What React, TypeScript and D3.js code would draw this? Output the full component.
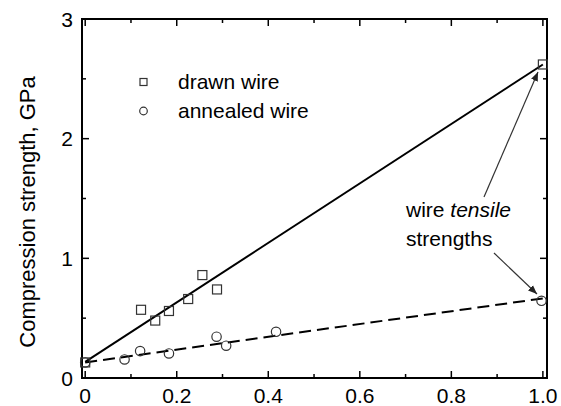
import React, { useRef, useEffect } from "react";
import * as d3 from "d3";

// drawn wire (squares)
const drawnX = [0, 0.122, 0.153, 0.183, 0.225, 0.256, 0.288, 1.0];
const drawnY = [0.13, 0.57, 0.48, 0.56, 0.66, 0.86, 0.74, 2.62];
// annealed wire (circles)
const annealedX = [0, 0.086, 0.12, 0.183, 0.287, 0.308, 0.417, 0.997];
const annealedY = [0.13, 0.155, 0.225, 0.205, 0.345, 0.27, 0.386, 0.645];
// fit lines (x0, x1) -> (y0, y1)
const fitX = [0, 1.0];
const drawnFitY = [0.135, 2.62];
const annealedFitY = [0.13, 0.665];

const xTicks = [0, 0.2, 0.4, 0.6, 0.8, 1.0];
const xTickLabels = ["0", "0.2", "0.4", "0.6", "0.8", "1.0"];
const yTicks = [0, 1, 2, 3];

const App = () => {
    const svgRef = useRef(null);

    useEffect(() => {
        const svg = d3.select(svgRef.current);
        svg.selectAll("*").remove();

        const left = 82, right = 547, top = 19, bottom = 378;
        const font = "Arial, 'Liberation Sans', sans-serif";

        const x = d3.scaleLinear().domain([-0.007, 1.009]).range([left, right]);
        const y = d3.scaleLinear().domain([0, 3]).range([bottom, top]);

        const g = svg.append("g");

        // ticks (inward, all four sides)
        const xMinor = d3.range(0, 1.01, 0.1);
        const yMinor = d3.range(0, 3.01, 0.5);
        xMinor.forEach((v) => {
            const major = xTicks.some((t) => Math.abs(t - v) < 1e-6);
            const len = major ? 7 : 4;
            g.append("line").attr("x1", x(v)).attr("x2", x(v)).attr("y1", bottom).attr("y2", bottom - len)
                .attr("stroke", "#000").attr("stroke-width", 1.5);
            g.append("line").attr("x1", x(v)).attr("x2", x(v)).attr("y1", top).attr("y2", top + len)
                .attr("stroke", "#000").attr("stroke-width", 1.5);
        });
        yMinor.forEach((v) => {
            const major = yTicks.some((t) => Math.abs(t - v) < 1e-6);
            const len = major ? 7 : 4;
            g.append("line").attr("y1", y(v)).attr("y2", y(v)).attr("x1", left).attr("x2", left + len)
                .attr("stroke", "#000").attr("stroke-width", 1.5);
            g.append("line").attr("y1", y(v)).attr("y2", y(v)).attr("x1", right).attr("x2", right - len)
                .attr("stroke", "#000").attr("stroke-width", 1.5);
        });

        // frame
        g.append("rect").attr("x", left).attr("y", top).attr("width", right - left).attr("height", bottom - top)
            .attr("fill", "none").attr("stroke", "#000").attr("stroke-width", 2);

        // tick labels
        xTicks.forEach((v, i) => {
            g.append("text").attr("x", x(v)).attr("y", 403).attr("text-anchor", "middle")
                .attr("font-family", font).attr("font-size", 21).attr("fill", "#000").text(xTickLabels[i]);
        });
        yTicks.forEach((v) => {
            g.append("text").attr("x", 73).attr("y", y(v) + 7.5).attr("text-anchor", "end")
                .attr("font-family", font).attr("font-size", 21).attr("fill", "#000").text(String(v));
        });

        // y axis title
        g.append("text").attr("transform", `translate(35,212) rotate(-90)`).attr("text-anchor", "middle")
            .attr("font-family", font).attr("font-size", 22).attr("fill", "#000").text("Compression strength, GPa");

        // fit lines
        const line = d3.line().x((d) => x(d[0])).y((d) => y(d[1]));
        g.append("path").attr("d", line(fitX.map((v, i) => [v, drawnFitY[i]])))
            .attr("fill", "none").attr("stroke", "#000").attr("stroke-width", 2);
        g.append("path").attr("d", line(fitX.map((v, i) => [v, annealedFitY[i]])))
            .attr("fill", "none").attr("stroke", "#000").attr("stroke-width", 2).attr("stroke-dasharray", "12,6");

        // markers
        drawnX.forEach((v, i) => {
            g.append("rect").attr("x", x(v) - 4.5).attr("y", y(drawnY[i]) - 4.5).attr("width", 9).attr("height", 9)
                .attr("fill", "none").attr("stroke", "#333").attr("stroke-width", 1.2);
        });
        annealedX.forEach((v, i) => {
            g.append("circle").attr("cx", x(v)).attr("cy", y(annealedY[i])).attr("r", 4.7)
                .attr("fill", "none").attr("stroke", "#333").attr("stroke-width", 1.2);
        });

        // legend
        g.append("rect").attr("x", 140).attr("y", 78.5).attr("width", 7).attr("height", 7)
            .attr("fill", "none").attr("stroke", "#333").attr("stroke-width", 1.2);
        g.append("circle").attr("cx", 143.5).attr("cy", 111).attr("r", 3.8)
            .attr("fill", "none").attr("stroke", "#333").attr("stroke-width", 1.2);
        g.append("text").attr("x", 178).attr("y", 89).attr("font-family", font).attr("font-size", 21)
            .attr("fill", "#000").text("drawn wire");
        g.append("text").attr("x", 178).attr("y", 118).attr("font-family", font).attr("font-size", 21)
            .attr("fill", "#000").text("annealed wire");

        // annotation
        const note = g.append("text").attr("x", 406).attr("y", 217).attr("font-family", font)
            .attr("font-size", 21).attr("fill", "#000");
        note.append("tspan").text("wire ");
        note.append("tspan").attr("font-style", "italic").text("tensile");
        g.append("text").attr("x", 406).attr("y", 246).attr("font-family", font).attr("font-size", 21)
            .attr("fill", "#000").text("strengths");

        svg.append("defs").append("marker").attr("id", "ah").attr("viewBox", "0 0 10 10")
            .attr("refX", 10).attr("refY", 5).attr("markerWidth", 9).attr("markerHeight", 9)
            .attr("markerUnits", "userSpaceOnUse").attr("orient", "auto")
            .append("path").attr("d", "M0,1 L10,5 L0,9 Z").attr("fill", "#222");

        g.append("line").attr("x1", 484).attr("y1", 197).attr("x2", 538).attr("y2", 72)
            .attr("stroke", "#333").attr("stroke-width", 1.2).attr("marker-end", "url(#ah)");
        g.append("line").attr("x1", 494).attr("y1", 253).attr("x2", 537).attr("y2", 294)
            .attr("stroke", "#333").attr("stroke-width", 1.2).attr("marker-end", "url(#ah)");
    }, []);

    return (
        <svg ref={svgRef} width={561} height={406} style={{ position: "absolute", left: 0, top: 0, background: "#fff" }} />
    );
};

export default App;
